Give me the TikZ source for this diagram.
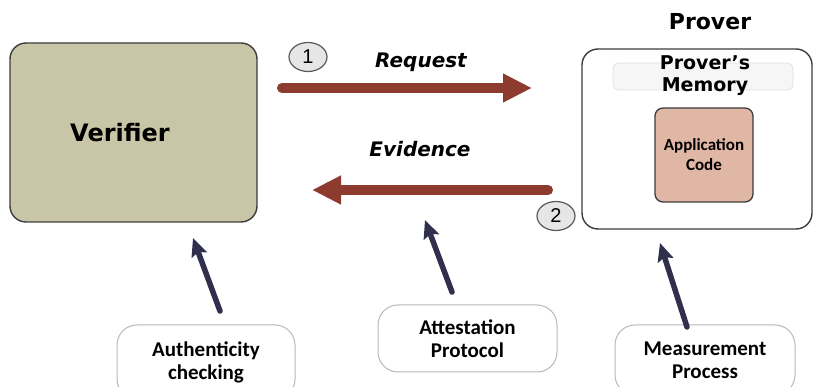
\documentclass[tikz,border=0pt]{standalone}
\usepackage{fontspec}
\setmainfont{Carlito}
\newfontfamily\comic{DejaVu Sans}
\newfontfamily\numf{Liberation Sans}
\usetikzlibrary{arrows.meta,shapes.geometric}
\definecolor{khaki}{HTML}{C8C6A7}
\definecolor{brownred}{HTML}{8C3B2E}
\definecolor{navy}{HTML}{30304E}
\definecolor{salmon}{HTML}{E0B6A4}
\definecolor{circfill}{HTML}{E6E6E6}
\definecolor{boxline}{HTML}{3C3C3C}
\definecolor{softline}{HTML}{B8B8B8}
\definecolor{memfill}{HTML}{F6F6F6}
\definecolor{memline}{HTML}{E2E2E2}
\begin{document}
\begin{tikzpicture}[x=1pt,y=-1pt,
  bigbox/.style={draw=boxline, line width=1.4pt, rounded corners=16pt, inner sep=0pt},
  appbox/.style={draw=boxline, line width=1.3pt, rounded corners=8pt, fill=salmon, inner sep=0pt, align=center,
     font=\bfseries\fontsize{17}{20}\selectfont},
  membox/.style={draw=memline, line width=0.8pt, rounded corners=6pt, fill=memfill, inner sep=0pt},
  softbox/.style={draw=softline, line width=1pt, rounded corners=20pt, fill=white, inner sep=0pt, align=center,
     font=\bfseries\fontsize{21}{23}\selectfont},
  comiclabel/.style={inner sep=0pt, font=\comic\bfseries\fontsize{#1}{#1}\selectfont},
  numcirc/.style={ellipse, draw=boxline!85, line width=1.2pt, fill=circfill, minimum width=38pt, minimum height=29pt,
     inner sep=0pt, font=\numf\fontsize{20}{20}\selectfont},
  brownarrow/.style={draw=brownred, line width=10pt, line cap=round, -{Triangle[length=29pt,width=27pt]}},
  navyarrow/.style={draw=navy, line width=5.5pt, line cap=round, -{Stealth[length=18pt,width=16pt,inset=3pt]}}
]
\useasboundingbox (0,0) rectangle (815,387);

% Verifier
\node[bigbox, fill=khaki, minimum width=247pt, minimum height=179pt] (verifier) at (133.5,132.5) {};
\node[comiclabel=24] (verifiertext) at (120,133) {Verifier};

% Prover
\node[comiclabel=22] (provertitle) at (710,22) {Prover};
\node[bigbox, fill=white, minimum width=230pt, minimum height=180pt] (prover) at (697,139) {};
\node[membox, minimum width=180pt, minimum height=27pt] (memory) at (703,76.5) {};
\node[inner sep=0pt, align=center, font=\comic\bfseries\fontsize{19}{22}\selectfont] (memorytext) at (705,76) {Prover’s\\Memory};
\node[appbox, minimum width=98pt, minimum height=94pt] (app) at (704,155) {Application\\Code};

% Messages
\node[comiclabel=20, font=\comic\bfseries\itshape\fontsize{20}{20}\selectfont] (reqlabel) at (421,62) {Request};
\node[comiclabel=20, font=\comic\bfseries\itshape\fontsize{20}{20}\selectfont] (evlabel) at (420,149) {Evidence};
\node[numcirc] (circ1) at (308,57) {1};
\node[numcirc] (circ2) at (556,216) {2};

\coordinate (reqS) at (282,88);
\coordinate (reqE) at (532,88);
\coordinate (evS) at (548,190);
\coordinate (evE) at (312,190);
\draw[brownarrow] (reqS) -- (reqE);
\draw[brownarrow] (evS) -- (evE);

% Bottom boxes
\node[softbox, minimum width=178pt, minimum height=74pt] (auth) at (206,362) {Authenticity\\checking};
\node[softbox, minimum width=179pt, minimum height=67pt] (attest) at (467.5,338.5) {Attestation\\Protocol};
\node[softbox, minimum width=180pt, minimum height=70pt] (meas) at (705,360) {Measurement\\Process};

% Navy arrows
\coordinate (authT) at (220,311);
\coordinate (authH) at (193,238);
\coordinate (attT) at (452,292);
\coordinate (attH) at (425,220);
\coordinate (measT) at (687,327);
\coordinate (measH) at (660,243);
\draw[navyarrow] (authT) -- (authH);
\draw[navyarrow] (attT) -- (attH);
\draw[navyarrow] (measT) -- (measH);
\end{tikzpicture}
\end{document}
